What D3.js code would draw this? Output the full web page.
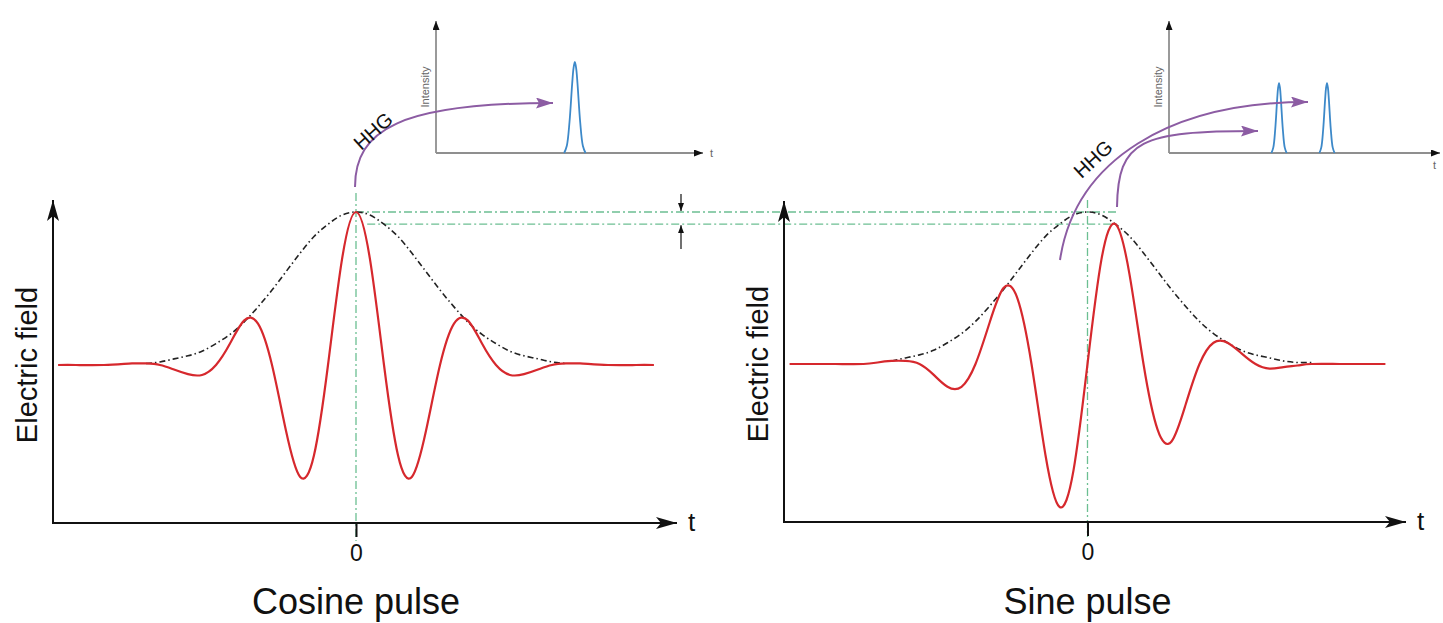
<!DOCTYPE HTML>
<html>
<head>
	<title>Cosine and sine pulse, HHG</title>
	<meta http-equiv="Content-Type" content="text/html; charset=utf-8">
	<script src="https://cdn.jsdelivr.net/npm/d3@7"></script>
	<style type="text/css">
		body { margin: 0; background-color: #ffffff; }
		text { font-family: "Liberation Sans", Arial, Helvetica, sans-serif; fill: #111; }
		.field    { fill: none; stroke: #d6282d; stroke-width: 2.2; }
		.envelope { fill: none; stroke: #222; stroke-width: 1.6; stroke-dasharray: 6,3,1.5,3; }
		.guide    { fill: none; stroke: #6cbf92; stroke-width: 1.3; stroke-dasharray: 8,3,2,3; }
		.hhg      { fill: none; stroke: #8c5ca3; stroke-width: 2; }
		.peak     { fill: none; stroke: #3d89c9; stroke-width: 1.8; }
	</style>
</head>
<body>
<div id="picture"></div>
<script>
var width  = 1443;
var height = 623;
var cycle  = 112;   // px per optical cycle

// time grid in optical cycles
var tGrid = [-2.66, -2.5, -2.25, -2, -1.875, -1.75, -1.625, -1.5, -1.375, -1.25, -1.125, -1,
	-0.875, -0.75, -0.625, -0.5, -0.375, -0.25, -0.125, 0, 0.125, 0.25, 0.375, 0.5, 0.625, 0.75,
	0.875, 1, 1.125, 1.25, 1.375, 1.5, 1.625, 1.75, 1.875, 2, 2.25, 2.5, 2.66];

var cosineField = [0, 0, 0, 0.01, 0.01, 0, -0.03, -0.06, -0.065, 0, 0.14, 0.29,
	0.27, 0, -0.43, -0.73, -0.59, 0, 0.69, 1.0, 0.69, 0, -0.59, -0.73, -0.43, 0,
	0.27, 0.29, 0.14, 0, -0.065, -0.06, -0.03, 0, 0.01, 0.01, 0, 0, 0];

var sineField = [0, 0, 0, 0, 0.01, 0.02, 0.02, 0, -0.07, -0.15, -0.15, 0,
	0.27, 0.50, 0.43, 0, -0.60, -0.94, -0.70, 0, 0.69, 0.92, 0.59, 0, -0.43, -0.51,
	-0.27, 0, 0.14, 0.14, 0.07, 0, -0.03, -0.02, -0.01, 0, 0, 0, 0];

var envelopeT = [-2, -1.875, -1.75, -1.625, -1.5, -1.375, -1.25, -1.125, -1, -0.875, -0.75,
	-0.625, -0.5, -0.375, -0.25, -0.125, 0, 0.125, 0.25, 0.375, 0.5, 0.625, 0.75, 0.875, 1,
	1.125, 1.25, 1.375, 1.5, 1.625, 1.75, 1.875, 2];
var envelopeVals = [0.01, 0.01, 0.02, 0.04, 0.06, 0.09, 0.14, 0.20, 0.28, 0.38, 0.49,
	0.61, 0.73, 0.84, 0.92, 0.98, 1.00, 0.98, 0.92, 0.84, 0.73, 0.61, 0.49, 0.38, 0.28,
	0.20, 0.14, 0.09, 0.06, 0.04, 0.02, 0.01, 0.01];

var tickValues = [0];

// harmonic bursts in the insets (inset time units 0..10)
var cosineBurstT = [5.2];
var cosineBurstI = [0.69];
var cosineBurstW = [1];
var sineBurstT   = [4.06, 5.83];
var sineBurstI   = [0.53, 0.53];
var sineBurstW   = [0.7, 0.7];

var peakOffsets = [-0.4, -0.3, -0.2, -0.1, -0.05, 0, 0.05, 0.1, 0.2, 0.3, 0.4];
var peakProfile = [0, 0.08, 0.34, 0.76, 0.93, 1, 0.93, 0.76, 0.34, 0.08, 0];

var panels = [
	{ title: "Cosine pulse", field: cosineField, cx: 356,    base: 365, amp: 153,
	  axisL: 53,  axisR: 678,  axisY: 523, axisTop: 199, env: [-1.9, 1.9], labelX: 37 },
	{ title: "Sine pulse",   field: sineField,   cx: 1087.5, base: 364, amp: 152,
	  axisL: 784, axisR: 1407, axisY: 522, axisTop: 200, env: [-1.75, 2.0], labelX: 768 }
];

var insets = [
	{ ox: 436,  oy: 153, w: 267, top: 21, T: cosineBurstT, I: cosineBurstI, W: cosineBurstW, tx: 710, ty: 157 },
	{ ox: 1169, oy: 153, w: 271, top: 21, T: sineBurstT,   I: sineBurstI,   W: sineBurstW,   tx: 1433, ty: 169 }
];

var svg = d3.select("#picture")
	.append("svg")
		.attr("width",  width)
		.attr("height", height);

// --- markers --- //
var defs = svg.append("defs");
function marker(id, d, w, h, color) {
	defs.append("marker")
		.attr("id", id)
		.attr("viewBox", "0 " + (-h / 2) + " " + w + " " + h)
		.attr("refX", w).attr("refY", 0)
		.attr("markerWidth", w).attr("markerHeight", h)
		.attr("markerUnits", "userSpaceOnUse")
		.attr("orient", "auto")
	.append("path")
		.attr("d", d)
		.attr("fill", color);
}
marker("axisArrow",  "M0,-6L21,0L0,6L5,0Z", 21, 12, "#111");
marker("insetArrow", "M0,-3.5L9,0L0,3.5Z", 9, 7, "#111");
marker("smallArrow", "M0,-3L8,0L0,3Z", 8, 6, "#111");
marker("hhgArrow",   "M0,-5.5L17,0L0,5.5L3,0Z", 17, 11, "#8c5ca3");

// scales for each panel
panels.forEach(function(p) {
	p.x = d3.scaleLinear().domain([0, 1]).range([p.cx, p.cx + cycle]);
	p.y = d3.scaleLinear().domain([0, 1]).range([p.base, p.base - p.amp]);
});

var left  = panels[0];
var right = panels[1];

// --- green guides (drawn under the curves) --- //
var yTop = left.y(d3.max(cosineField));
var yLow = right.y(d3.max(sineField));
var xEnd = right.x(0.26);
var guides = svg.append("g");
guides.append("path").attr("class", "guide")
	.attr("d", "M" + left.x(0) + "," + yTop + "H" + xEnd);
guides.append("path").attr("class", "guide")
	.attr("d", "M" + left.x(0.1) + "," + yLow + "H" + xEnd);
guides.append("path").attr("class", "guide")
	.attr("d", "M" + left.x(0) + ",193V541");
guides.append("path").attr("class", "guide")
	.attr("d", "M" + right.x(0) + ",200V537");

// delta arrows
svg.append("path").attr("d", "M681,194V" + (yTop - 1))
	.attr("stroke", "#111").attr("stroke-width", 1.2).attr("marker-end", "url(#smallArrow)");
svg.append("path").attr("d", "M681,249V" + (yLow + 1))
	.attr("stroke", "#111").attr("stroke-width", 1.2).attr("marker-end", "url(#smallArrow)");

// --- panels --- //
panels.forEach(function(p) {
	var g = svg.append("g");

	// envelope
	var envPts = envelopeT.map(function(t, i) { return [t, envelopeVals[i]]; })
		.filter(function(d) { return d[0] >= p.env[0] && d[0] <= p.env[1]; });
	g.append("path")
		.attr("class", "envelope")
		.attr("d", d3.line()
			.x(function(d) { return p.x(d[0]); })
			.y(function(d) { return p.y(d[1]); })
			.curve(d3.curveNatural)(envPts));

	// field
	g.append("path")
		.attr("class", "field")
		.attr("d", d3.line()
			.x(function(d, i) { return p.x(tGrid[i]); })
			.y(function(d) { return p.y(d); })
			.curve(d3.curveNatural)(p.field));

	// x axis
	var xa = g.append("g")
		.attr("transform", "translate(0," + p.axisY + ")")
		.attr("color", "#111")
		.call(d3.axisBottom(p.x).tickValues(tickValues).tickSize(14).tickSizeOuter(0)
			.tickPadding(8).tickFormat(function(d) { return d; }));
	xa.select(".domain")
		.attr("d", "M" + p.axisL + ",0H" + (p.axisR - 1))
		.attr("stroke-width", 2)
		.attr("marker-end", "url(#axisArrow)");
	xa.selectAll(".tick line").attr("stroke-width", 2);
	xa.selectAll(".tick text")
		.attr("font-family", "Liberation Sans, Arial, sans-serif")
		.attr("font-size", 23)
		.attr("fill", "#111");

	// y axis
	var ya = g.append("g")
		.attr("transform", "translate(" + p.axisL + ",0)")
		.attr("color", "#111")
		.call(d3.axisLeft(p.y).tickValues([]).tickSizeOuter(0));
	ya.select(".domain")
		.attr("d", "M0," + (p.axisY + 1) + "V" + (p.axisTop + 1))
		.attr("stroke-width", 2)
		.attr("marker-end", "url(#axisArrow)");

	g.append("text")
		.attr("transform", "translate(" + p.labelX + "," + p.base + ") rotate(-90)")
		.attr("text-anchor", "middle")
		.attr("font-size", 29)
		.text("Electric field");

	g.append("text")
		.attr("x", p.axisR + 10)
		.attr("y", p.axisY + 8)
		.attr("font-size", 26)
		.text("t");

	g.append("text")
		.attr("x", p.cx)
		.attr("y", 614)
		.attr("text-anchor", "middle")
		.attr("font-size", 36)
		.text(p.title);
});

// --- insets --- //
insets.forEach(function(s) {
	var xs = d3.scaleLinear().domain([0, 10]).range([s.ox, s.ox + s.w]);
	var ys = d3.scaleLinear().domain([0, 1]).range([s.oy, s.oy - 132]);
	var g = svg.append("g");

	var xa = g.append("g")
		.attr("transform", "translate(0," + s.oy + ")")
		.call(d3.axisBottom(xs).tickValues([]).tickSizeOuter(0));
	xa.select(".domain")
		.attr("d", "M" + s.ox + ",0H" + (s.ox + s.w))
		.attr("stroke", "#8f8f8f").attr("stroke-width", 1.8)
		.attr("marker-end", "url(#insetArrow)");

	var ya = g.append("g")
		.attr("transform", "translate(" + s.ox + ",0)")
		.call(d3.axisLeft(ys).tickValues([]).tickSizeOuter(0));
	ya.select(".domain")
		.attr("d", "M0," + s.oy + "V" + s.top)
		.attr("stroke", "#8f8f8f").attr("stroke-width", 1.8)
		.attr("marker-end", "url(#insetArrow)");

	g.append("text")
		.attr("transform", "translate(" + (s.ox - 7) + "," + (s.oy + s.top) / 2 + ") rotate(-90)")
		.attr("text-anchor", "middle")
		.attr("font-size", 11)
		.style("fill", "#666")
		.text("Intensity");

	g.append("text")
		.attr("x", s.tx)
		.attr("y", s.ty)
		.attr("font-size", 11)
		.style("fill", "#666")
		.text("t");

	s.T.forEach(function(t0, k) {
		g.append("path")
			.attr("class", "peak")
			.attr("d", d3.line()
				.x(function(off) { return xs(t0 + off * s.W[k]); })
				.y(function(off, i) { return ys(s.I[k] * peakProfile[i]); })
				.curve(d3.curveCatmullRom.alpha(0.5))(peakOffsets));
	});
});

// --- HHG arrows --- //
var arrows = [
	"M" + (left.x(0) - 1) + ",187C355,130 400,103 553,103",
	"M1060,260C1075,160 1170,102 1308,102",
	"M1117,207C1118,140 1140,131 1258,131"
];
arrows.forEach(function(d) {
	svg.append("path")
		.attr("class", "hhg")
		.attr("d", d)
		.attr("marker-end", "url(#hhgArrow)");
});

[[373, 131, -42], [1093, 159, -43]].forEach(function(h) {
	svg.append("text")
		.attr("transform", "translate(" + h[0] + "," + h[1] + ") rotate(" + h[2] + ")")
		.attr("text-anchor", "middle")
		.attr("dominant-baseline", "central")
		.attr("font-size", 20)
		.text("HHG");
});
</script>
</body>
</html>
